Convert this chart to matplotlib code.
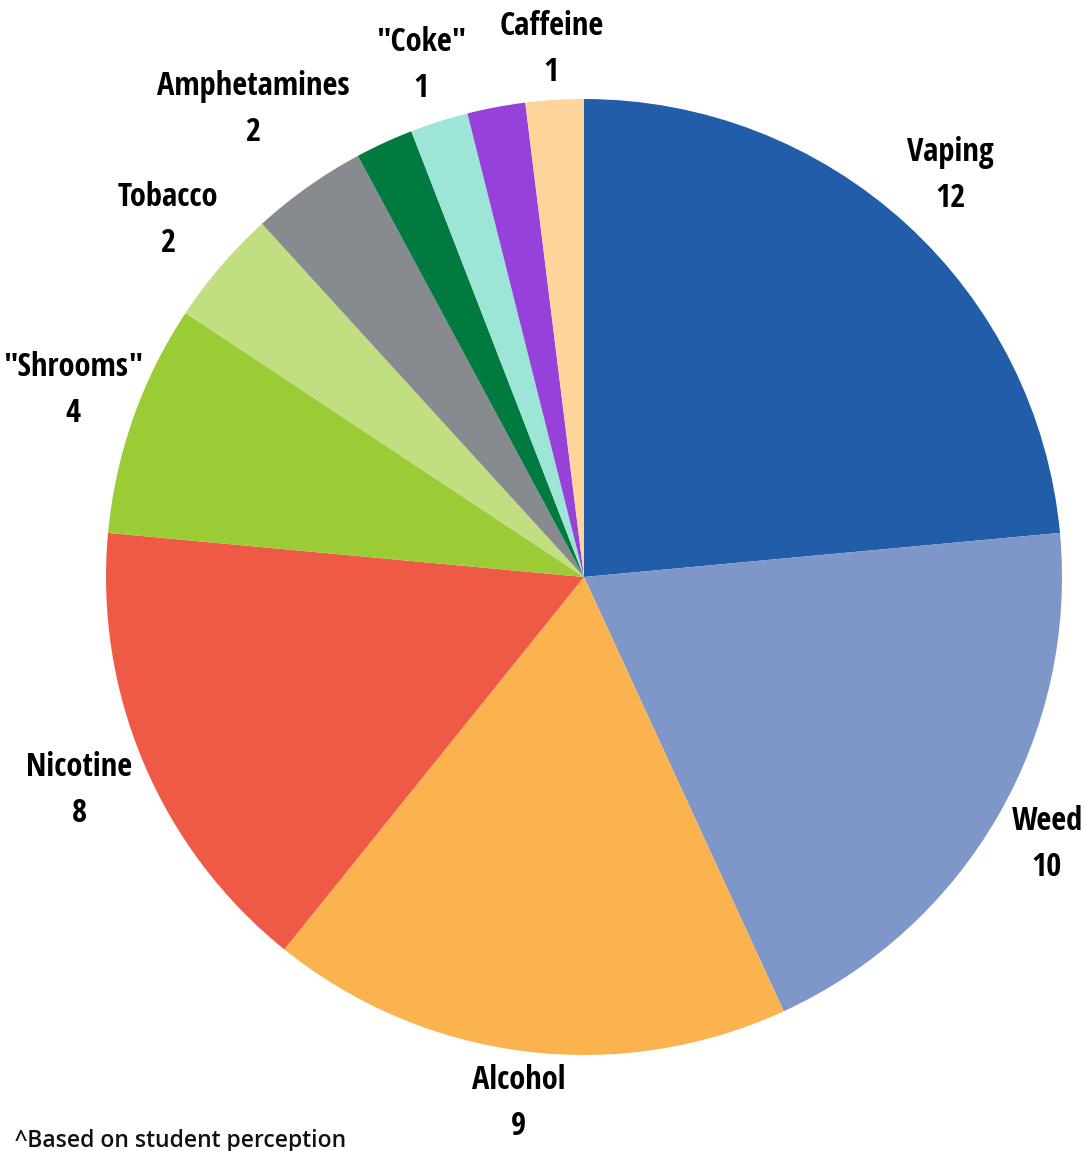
import numpy as np
import matplotlib
matplotlib.use("Agg")
import matplotlib.pyplot as plt

# slices go clockwise from 12 o'clock; two small slices carry no label
categories = ["Vaping", "Weed", "Alcohol", "Nicotine", '"Shrooms"', "Tobacco",
              "Amphetamines", "", '"Coke"', "", "Caffeine"]
counts = [12, 10, 9, 8, 4, 2, 2, 1, 1, 1, 1]
colors = ["#215DA8", "#7E96C8", "#FAB34E", "#EF5A46", "#9BCC36", "#C1DF80",
          "#878A8E", "#007A3E", "#9DE5D7", "#9641DA", "#FDD59B"]

W, H = 1086, 1151
fig = plt.figure(figsize=(W / 100, H / 100), dpi=100)

cx, cy, r = 584, 577, 478
ax = fig.add_axes([(cx - r) / W, (H - cy - r) / H, 2 * r / W, 2 * r / H])
ax.axis("off")

wedges, _ = ax.pie(counts, colors=colors, startangle=90, counterclock=False,
                   radius=1, wedgeprops=dict(linewidth=0))
ax.set_xlim(-1, 1)
ax.set_ylim(-1, 1)
ax.set_aspect("equal")

label_font = dict(family=["Open Sans Condensed", "DejaVu Sans"],
                  fontweight="bold", fontsize=23.5, color="black")
labels = []
for w, name, n in zip(wedges, categories, counts):
    if not name:
        continue
    mid = np.deg2rad((w.theta1 + w.theta2) / 2)
    t = ax.text(0, 0, f"{name}\n{n}", ha="center", va="center",
                linespacing=1.52, clip_on=False, **label_font)
    labels.append((t, mid))

# push each label box out until its nearest side sits just past the rim,
# keeping it inside the figure
fig.canvas.draw()
renderer = fig.canvas.get_renderer()
gap = 4
for t, mid in labels:
    bb = t.get_window_extent(renderer)
    hw, hh = bb.width / 2, bb.height / 2
    ux, uy = np.cos(mid), np.sin(mid)
    dist = r + gap + abs(ux) * hw + abs(uy) * (hh + 4)
    px, py = dist * ux, dist * uy
    px = np.clip(px, -cx + hw + 3, W - cx - hw - 3)
    t.set_position((px / r, py / r))

fig.text(15 / W, 4 / H, "^Based on student perception", ha="left",
         va="baseline", fontsize=16.5, fontweight="semibold",
         family=["Open Sans", "DejaVu Sans"], color="#111111")

fig.savefig("out.png", dpi=100)
